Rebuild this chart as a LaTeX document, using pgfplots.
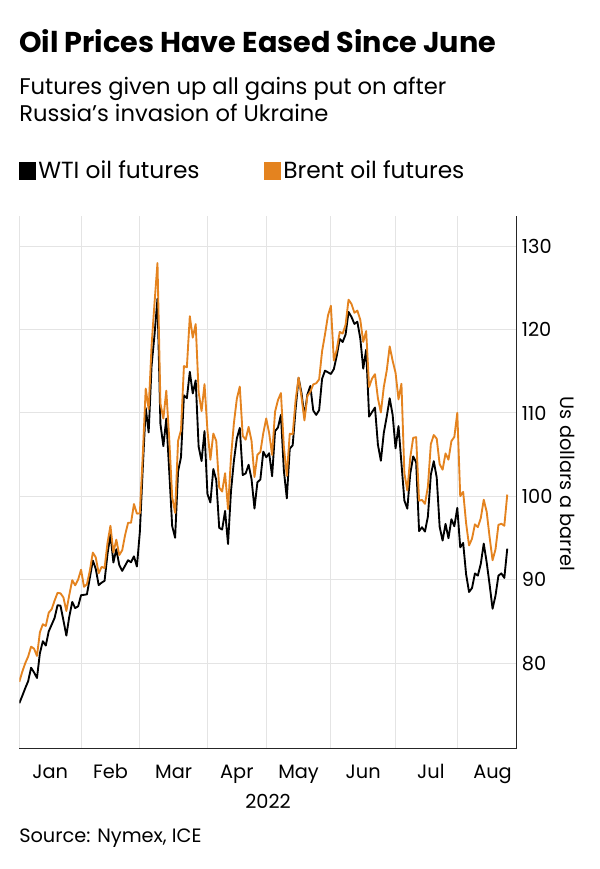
\documentclass[border=0pt]{standalone}
\usepackage{fontspec}
\setmainfont{Poppins}
\usepackage{pgfplots}
\pgfplotsset{compat=1.18}
\usepackage{pgfplotstable}
\definecolor{brent}{RGB}{228,131,31}
\definecolor{gridc}{RGB}{228,228,228}

% x = trading-day index, 0 = 31 Dec 2021
\pgfplotstableread{
x y
0 75.21
1 76.08
2 77.00
3 77.85
4 79.46
5 78.90
6 78.23
7 81.22
8 82.64
9 82.12
10 83.82
12 85.43
13 86.96
14 86.90
15 85.14
16 83.31
17 85.60
18 87.35
19 86.61
20 86.82
21 88.15
22 88.20
23 88.26
24 90.27
25 92.31
26 91.32
27 89.36
28 89.66
29 89.88
30 93.10
31 95.46
32 92.07
33 93.66
34 91.76
35 91.07
37 92.35
38 92.10
39 92.81
40 91.59
41 95.72
42 103.41
43 110.60
44 107.67
45 115.68
46 119.40
47 123.70
48 108.70
49 106.02
50 109.33
51 103.01
52 96.44
53 95.04
54 102.98
55 104.70
56 112.12
57 111.76
58 114.93
59 112.34
60 113.90
61 105.96
62 104.24
63 107.82
64 100.28
65 99.27
66 103.28
67 101.96
68 96.23
69 96.03
70 98.26
71 94.29
72 100.60
73 104.25
74 106.95
75 108.21
76 102.56
77 102.75
78 103.79
79 102.07
80 98.54
81 101.70
82 102.02
83 105.36
84 104.69
85 105.17
86 102.41
87 107.81
88 108.26
89 109.77
90 103.09
91 99.76
92 105.71
93 106.13
94 110.49
95 114.20
96 112.40
97 109.59
98 112.21
99 113.23
100 110.29
101 109.77
102 110.33
103 114.09
104 115.07
106 114.67
107 115.26
108 116.87
109 118.87
110 118.50
111 119.41
112 122.11
113 121.51
114 120.67
115 120.93
116 118.93
117 115.31
118 117.59
119 109.56
121 110.65
122 106.19
123 104.27
124 107.62
125 109.57
126 111.76
127 109.78
128 105.76
129 108.43
131 99.50
132 98.53
133 102.73
134 104.79
135 104.09
136 95.84
137 96.30
138 95.78
139 97.59
140 102.60
141 104.22
142 102.26
143 96.35
144 94.70
145 96.70
146 94.98
147 97.26
148 96.42
149 98.62
150 93.89
151 94.42
152 90.66
153 88.54
154 89.01
155 90.76
156 90.50
157 91.93
158 94.34
159 92.09
160 89.41
161 86.53
162 88.11
163 90.50
164 90.77
165 90.23
166 93.74
}\wti

\pgfplotstableread{
x y
0 77.78
1 78.98
2 80.00
3 80.80
4 81.99
5 81.75
6 80.87
7 83.72
8 84.67
9 84.47
10 86.06
11 86.48
12 87.51
13 88.44
14 88.38
15 87.89
16 86.27
17 88.20
18 89.96
19 89.34
20 90.03
21 91.21
22 89.16
23 89.47
24 91.11
25 93.27
26 92.69
27 90.78
28 91.55
29 91.41
30 94.44
31 96.48
32 93.28
33 94.81
34 92.97
35 93.54
36 95.39
37 96.84
38 96.84
39 99.08
40 97.93
41 97.97
42 104.97
43 112.93
44 110.46
45 118.11
46 123.21
47 127.98
48 111.14
49 109.33
50 112.67
51 106.90
52 99.91
53 98.02
54 106.64
55 107.93
56 115.62
57 115.48
58 121.60
59 119.03
60 120.65
61 112.48
62 110.23
63 113.45
64 107.91
65 104.39
66 107.53
67 106.64
68 101.07
69 100.58
70 102.78
71 98.48
72 104.64
73 108.78
74 111.70
75 113.16
76 107.25
77 106.80
78 108.33
79 106.65
80 102.32
81 104.99
82 105.32
83 107.59
84 109.34
85 107.58
86 104.97
87 110.14
88 111.55
89 112.39
90 105.94
91 102.46
92 107.51
93 107.45
94 111.55
95 114.24
96 111.93
97 109.11
98 112.04
99 112.55
100 113.42
101 113.56
102 114.03
103 117.40
104 119.43
105 121.67
106 122.84
107 116.29
108 117.61
109 119.72
110 119.51
111 120.57
112 123.58
113 123.07
114 122.01
115 122.27
116 121.17
117 118.51
118 119.81
119 113.12
120 114.13
121 114.65
122 111.74
123 110.05
124 113.12
125 115.09
126 117.98
127 116.26
128 114.81
129 111.63
130 113.50
131 102.77
132 100.69
133 104.65
134 107.02
135 107.10
136 99.49
137 99.57
138 99.10
139 101.16
140 106.27
141 107.35
142 106.92
143 103.86
144 103.20
145 105.15
146 104.40
147 106.62
148 107.14
149 110.01
150 100.03
151 100.54
152 96.78
153 94.12
154 94.92
155 96.65
156 96.31
157 97.40
158 99.60
159 98.15
160 95.10
161 92.34
162 93.65
163 96.59
164 96.72
165 96.48
166 100.22
}\brent

\begin{document}
\begin{tikzpicture}
\path (0,0) rectangle (450pt,651.75pt);

% headings
\node[anchor=base west, inner sep=0pt, font=\fontsize{21.5}{25}\selectfont\bfseries] at (14.25pt,612.6pt) {Oil Prices Have Eased Since June};
\node[anchor=base west, inner sep=0pt, font=\fontsize{17}{20}\selectfont] at (14.25pt,580.8pt) {Futures given up all gains put on after};
\node[anchor=base west, inner sep=0pt, font=\fontsize{17}{20}\selectfont] at (14.25pt,560.4pt) {Russia’s invasion of Ukraine};

% legend
\fill[black] (14.25pt,517.1pt) rectangle (27pt,529.9pt);
\node[anchor=base west, inner sep=0pt, font=\fontsize{17.5}{20}\selectfont] at (28.5pt,517.6pt) {WTI oil futures};
\fill[brent] (198pt,517.1pt) rectangle (210.75pt,529.9pt);
\node[anchor=base west, inner sep=0pt, font=\fontsize{17.5}{20}\selectfont] at (212.25pt,517.6pt) {Brent oil futures};

\begin{axis}[
  at={(14.5pt,90.5pt)}, anchor=south west,
  scale only axis, width=373pt, height=399.2pt,
  xmin=0, xmax=169.2, ymin=69.8, ymax=133.6,
  axis x line*=bottom, axis y line*=right,
  axis line style={line width=0.9pt, black!85},
  xtick={10.5,31,52.5,74,95,117,140,161},
  xticklabels={Jan,Feb,Mar,Apr,May,Jun,Jul,Aug},
  minor xtick={0,21,41,64,84,106,128,149},
  xminorgrids=true, xmajorgrids=false, ymajorgrids=true,
  ytick={80,90,...,130},
  yticklabel pos=right,
  major tick length=0pt, minor tick length=0pt,
  grid style={gridc, line width=0.75pt},
  minor grid style={gridc, line width=0.75pt},
  tick label style={font=\fontsize{14.5}{17}\selectfont},
  /pgf/number format/assume math mode=true,
  xticklabel style={anchor=base, yshift=-22.6pt},
  yticklabel style={anchor=west, inner sep=0pt, xshift=3.75pt},
]
\addplot[black, line width=1.4pt, line join=round] table[x=x, y=y] {\wti};
\addplot[brent, line width=1.4pt, line join=round] table[x=x, y=y] {\brent};
\end{axis}

\node[anchor=base, inner sep=0pt, font=\fontsize{14.5}{17}\selectfont] at (201pt,45.4pt) {2022};
\node[anchor=base west, inner sep=0pt, font=\fontsize{14.5}{17}\selectfont] at (14.25pt,19.9pt) {Source: Nymex, ICE};
\node[rotate=-90, inner sep=0pt, font=\fontsize{14.5}{17}\selectfont] at (426pt,288.75pt) {Us dollars a barrel};
\end{tikzpicture}
\end{document}
